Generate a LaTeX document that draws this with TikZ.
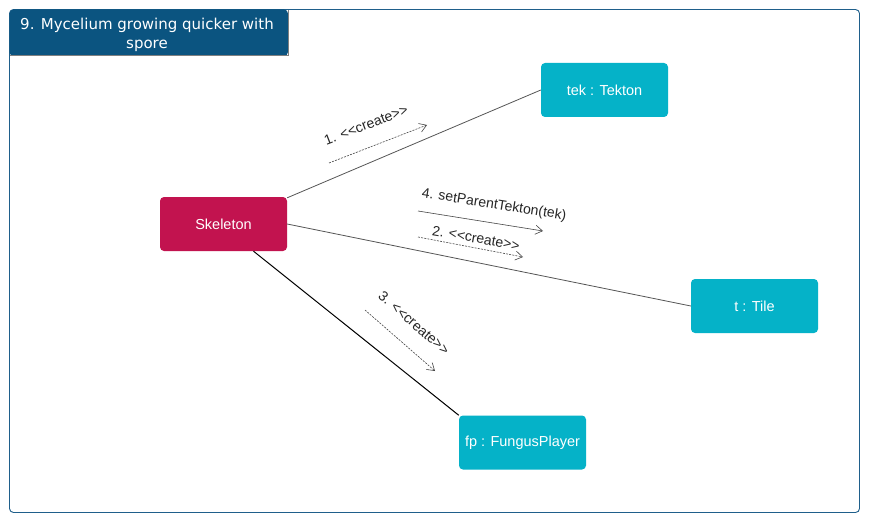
\documentclass[tikz,border=0pt]{standalone}
\usepackage{fontspec}
\setmainfont{Liberation Sans}
\newfontfamily\titlefont{DejaVu Sans}
\usetikzlibrary{arrows.meta}
\definecolor{frameblue}{HTML}{1F5F8B}
\definecolor{titleblue}{HTML}{0B5480}
\definecolor{skelred}{HTML}{C2134F}
\definecolor{objcyan}{HTML}{05B2C8}
\definecolor{linkgray}{HTML}{555555}
\definecolor{msggray}{HTML}{444444}
\newcommand{\crt}{{<}{<}create{>}{>}}
\begin{document}
\begin{tikzpicture}[x=1pt,y=-1pt,
  obj/.style={rounded corners=4pt, minimum width=127pt, minimum height=54pt, inner sep=0pt, text=white, font=\fontsize{14.5}{16}\selectfont},
  link/.style={draw=linkgray, line width=0.8pt},
  msg/.style={draw=msggray, line width=0.6pt, -{Straight Barb[length=7pt,width=9pt,line width=0.6pt]}},
  msgd/.style={msg, dash pattern=on 2pt off 1.2pt},
  lbl/.style={text=black!85, font=\fontsize{14}{15}\selectfont, inner sep=0pt}]
\useasboundingbox (0,0) rectangle (871,527);
\fill[white] (0,0) rectangle (871,527);
\draw[frameblue, line width=0.9pt, rounded corners=4pt] (9.5,9.5) rectangle (859.5,512.5);
\path[fill=titleblue, rounded corners=4pt] (9.5,56) -- (9.5,9.5) -- (288,9.5) -- (288,56) -- cycle;
\draw[gray, line width=1pt] (288,10) -- (288,56) -- (10,56);
\node[align=center, text=white, font=\titlefont\fontsize{15}{18.5}\selectfont] (title) at (147,35) {9. Mycelium growing quicker with\\spore};

\node[obj, fill=skelred] (skel) at (223.5,224) {Skeleton};
\node[obj, fill=objcyan] (tek) at (604.5,90) {tek : Tekton};
\node[obj, fill=objcyan] (tile) at (754.5,306) {t : Tile};
\node[obj, fill=objcyan] (fp) at (522.5,442.5) {fp : FungusPlayer};

\draw[link] (skel.north east) ++(0,1) -- (tek.west);
\draw[link] (skel.east) -- (tile.west);
\draw[draw=black, line width=1pt] (skel.south) ++(30,0) coordinate (s3) -- (fp.north west);

\coordinate (m1a) at (329,163); \coordinate (m1b) at (427,125);
\draw[msgd] (m1a) -- (m1b);
\node[lbl, rotate=21] (l1) at (366,125) {1. \crt};

\coordinate (m4a) at (418,211); \coordinate (m4b) at (543,231);
\draw[msg] (m4a) -- (m4b);
\node[lbl, rotate=-9] (l4) at (494,205) {4. setParentTekton(tek)};

\coordinate (m2a) at (418,237); \coordinate (m2b) at (523,257);
\draw[msgd] (m2a) -- (m2b);
\node[lbl, rotate=-10] (l2) at (476,238) {2. \crt};

\coordinate (m3a) at (365,310); \coordinate (m3b) at (435,371);
\draw[msgd] (m3a) -- (m3b);
\node[lbl, rotate=-41] (l3) at (414,323) {3. \crt};
\end{tikzpicture}
\end{document}
